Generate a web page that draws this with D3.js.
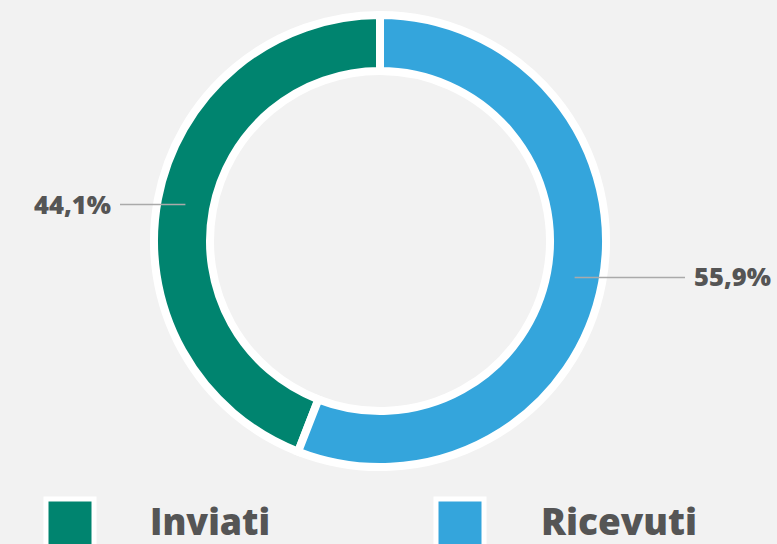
<!DOCTYPE html>
<html><head><meta charset="utf-8">
<script src="https://cdn.jsdelivr.net/npm/d3@7"></script>
<style>html,body{margin:0;padding:0;background:#f2f2f2;}svg{display:block;}</style>
</head><body>
<script>
const categories = ["Inviati", "Ricevuti"];
const values = [44.1, 55.9];
const labels = ["44,1%", "55,9%"];
const colors = ["#00846f", "#34a5dc"];

const W = 777, H = 544;
const cx = 380, cy = 241, rOuter = 226, rInner = 170;
const svg = d3.select("body").append("svg").attr("width", W).attr("height", H);
svg.append("rect").attr("width", W).attr("height", H).attr("fill", "#f2f2f2");

const total = d3.sum(values);
const offset = -2 * Math.PI * values[0] / total;
const pie = d3.pie().sort(null).startAngle(offset).endAngle(offset + 2 * Math.PI);
const arcs = pie(values);
const arc = d3.arc().innerRadius(rInner).outerRadius(rOuter);

const g = svg.append("g").attr("transform", `translate(${cx},${cy})`);
g.selectAll("path").data(arcs).join("path")
  .attr("d", arc)
  .attr("fill", (d, i) => colors[i])
  .attr("stroke", "#fff").attr("stroke-width", 8).attr("stroke-linejoin", "miter");

const font = "'Open Sans', sans-serif";
arcs.forEach((d, i) => {
  const [x, y] = arc.centroid(d);
  const left = x < 0;
  const endX = left ? 120 - cx : 685 - cx;
  g.append("line").attr("x1", x).attr("y1", y).attr("x2", endX).attr("y2", y)
    .attr("stroke", "#aaa").attr("stroke-width", 1.5);
  g.append("text")
    .attr("x", left ? endX - 9 : endX + 9)
    .attr("y", y + 9)
    .attr("text-anchor", left ? "end" : "start")
    .attr("font-family", font).attr("font-weight", 800).attr("font-size", 25)
    .attr("fill", "#555")
    .attr("textLength", 77).attr("lengthAdjust", "spacingAndGlyphs")
    .text(labels[i]);
});

// legend
const legX = [46, 436], legTextX = [150, 541], legTextW = [120, 156];
categories.forEach((c, i) => {
  svg.append("rect").attr("x", legX[i]).attr("y", 499).attr("width", 48).attr("height", 60)
    .attr("fill", colors[i]).attr("stroke", "#fff").attr("stroke-width", 5);
  svg.append("text").attr("x", legTextX[i]).attr("y", 535)
    .attr("font-family", font).attr("font-weight", 800).attr("font-size", 37)
    .attr("fill", "#555")
    .attr("textLength", legTextW[i]).attr("lengthAdjust", "spacingAndGlyphs")
    .text(c);
});
</script>
</body></html>
